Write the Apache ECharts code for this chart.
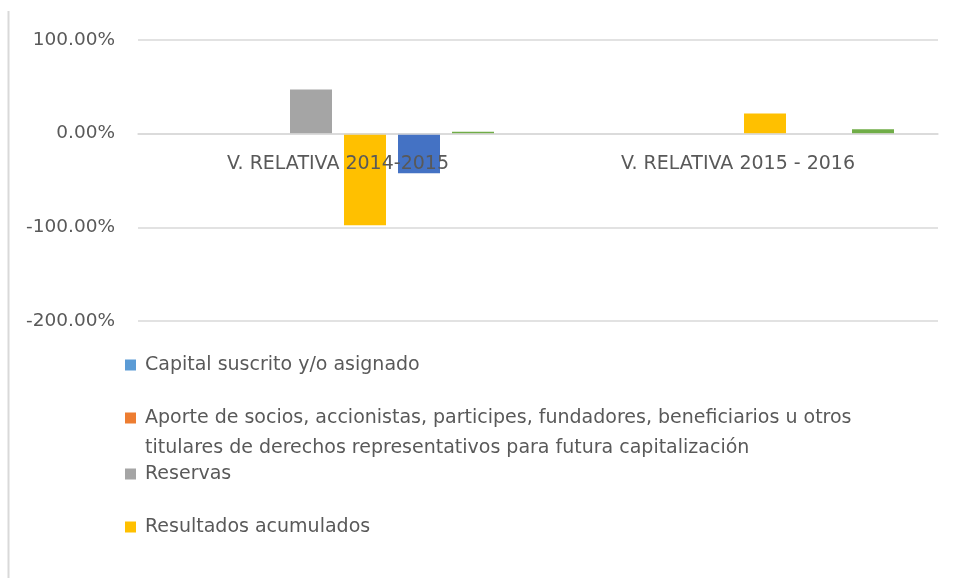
<!DOCTYPE html>
<html>
<head>
<meta charset="utf-8">
<script src="https://cdn.jsdelivr.net/npm/echarts@6/dist/echarts.min.js"></script>
<style>html,body{margin:0;padding:0;background:#fff}#c{width:955px;height:578px}</style>
</head>
<body>
<div id="c"></div>
<script>
var categories = ['V. RELATIVA 2014-2015', 'V. RELATIVA 2015 - 2016'];
var seriesNames = [
  'Capital suscrito y/o asignado',
  'Aporte de socios, accionistas, participes, fundadores, beneficiarios u otros titulares de derechos representativos para futura capitalización',
  'Reservas',
  'Resultados acumulados',
  'Serie 5',
  'Serie 6'
];
var capital = [0, 0];
var aporte = [0, 0];
var reservas = [47.2, 0];
var resultados = [-97.8, 21.6];
var serie5 = [-42.3, 0];
var serie6 = [2.0, 4.6];
var yTicks = { min: -200, max: 100, interval: 100 };
var colors = ['#5B9BD5', '#ED7D31', '#A5A5A5', '#FFC000', '#4472C4', '#70AD47'];

var FONT = 'DejaVu Sans';
var TXT = '#595959';
var values = [capital, aporte, reservas, resultados, serie5, serie6];

function legendAt(name, top, fmt) {
  return {
    data: [name], left: 125, top: top, padding: 0, orient: 'vertical',
    icon: 'rect', itemWidth: 11, itemHeight: 11, selectedMode: false,
    formatter: fmt || '{name}',
    textStyle: { fontFamily: FONT, fontSize: 19, color: TXT, lineHeight: 22, padding: [0, 0, 0, 4] }
  };
}

var chart = echarts.init(document.getElementById('c'));
chart.setOption({
  animation: false,
  color: colors,
  grid: { left: 138, right: 17, top: 40, bottom: 257, containLabel: false },
  xAxis: {
    type: 'category', data: categories, z: 10, position: 'bottom', offset: -187.7,
    axisLine: { show: true, onZero: false, lineStyle: { color: '#d9d9d9', width: 1.5 } },
    axisTick: { show: false },
    axisLabel: { margin: 21, fontFamily: FONT, fontSize: 19, color: TXT }
  },
  yAxis: {
    type: 'value', min: yTicks.min, max: yTicks.max, interval: yTicks.interval,
    axisLine: { show: false }, axisTick: { show: false },
    splitLine: { lineStyle: { color: '#d9d9d9', width: 1.5 } },
    axisLabel: { margin: 23, fontFamily: FONT, fontSize: 18.5, color: TXT,
      formatter: function (v) { return v.toFixed(2) + '%'; } }
  },
  legend: [
    legendAt(seriesNames[0], 354),
    legendAt(seriesNames[1], 407, 'Aporte de socios, accionistas, participes, fundadores, beneficiarios u otros'),
    legendAt(seriesNames[2], 463),
    legendAt(seriesNames[3], 516)
  ],
  graphic: [
    { type: 'line', shape: { x1: 8.5, y1: 11, x2: 8.5, y2: 578 }, style: { stroke: '#d9d9d9', lineWidth: 2 } },
    { type: 'text', left: 145, top: 439, style: { text: 'titulares de derechos representativos para futura capitalización',
      font: '19px "DejaVu Sans"', fill: TXT } }
  ],
  series: seriesNames.map(function (n, i) {
    return { name: n, type: 'bar', data: values[i], barCategoryGap: '22%', barGap: '28.6%',
      itemStyle: { color: colors[i] } };
  })
});
</script>
</body>
</html>
